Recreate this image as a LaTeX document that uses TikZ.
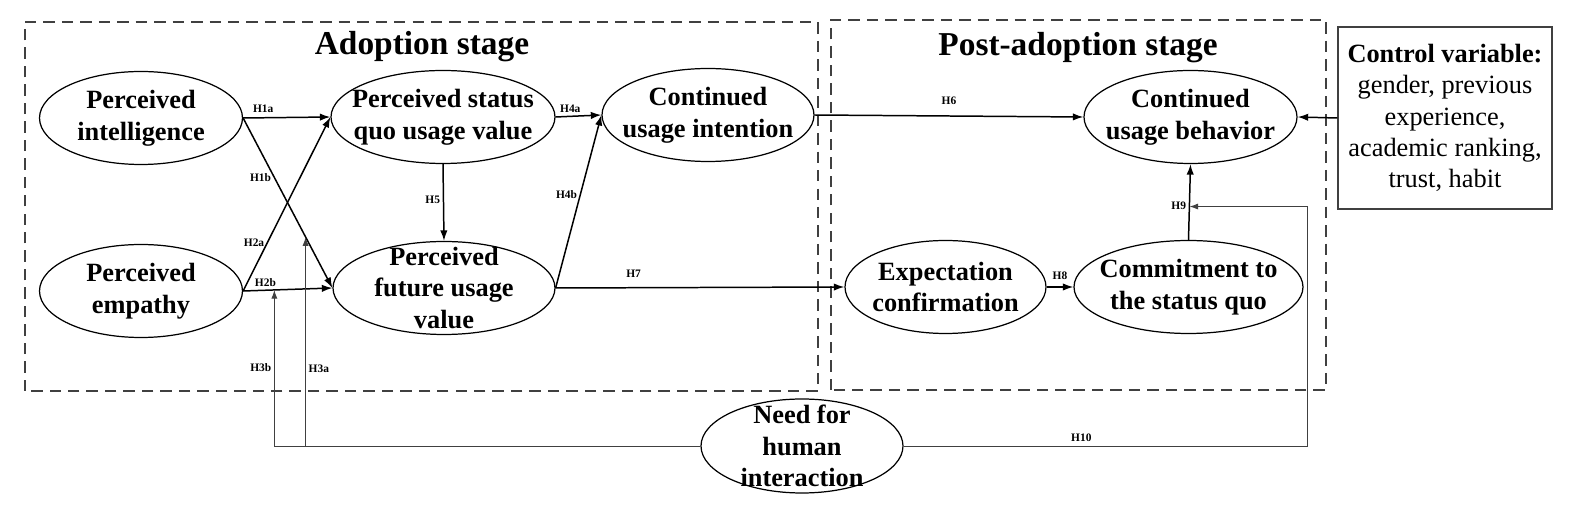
\documentclass[tikz,border=0pt]{standalone}
\usepackage{fontspec}
\setmainfont{Liberation Serif}
\usetikzlibrary{shapes.geometric, arrows.meta, calc}
\tikzset{
  oval/.style={draw, ellipse, line width=0.7pt, minimum height=1.86cm, inner sep=0pt},
  ovaltext/.style={align=center, inner sep=0pt, font=\fontsize{15}{18}\selectfont\bfseries},
  stagebox/.style={draw=black!75, line width=1.1pt, dash pattern=on 6.5pt off 4pt},
  stagetitle/.style={font=\fontsize{19}{22}\selectfont\bfseries},
  hyp/.style={font=\fontsize{6.5}{7}\selectfont\bfseries, inner sep=1.5pt},
  link/.style={-{Latex[length=6pt,width=4.2pt]}, line width=0.85pt},
  moder/.style={-{Latex[length=5pt,width=3.5pt]}, line width=0.55pt, draw=black!75},
}
\begin{document}
\begin{tikzpicture}
\useasboundingbox (0,0) rectangle (31.46,10.42);
\draw[stagebox] (0.50,2.60) rectangle (16.36,9.98);
\draw[stagebox] (16.62,2.62) rectangle (26.52,10.02);
\path (8.44,9.48) node[stagetitle] (adopt) {Adoption stage};
\path (21.56,9.46) node[stagetitle] (post) {Post-adoption stage};

\path (2.82,8.06) node[oval, minimum width=4.06cm] (intel) {};
\path (2.82,4.60) node[oval, minimum width=4.06cm] (empathy) {};
\path (8.86,8.08) node[oval, minimum width=4.48cm] (statusquo) {};
\path (8.88,4.66) node[oval, minimum width=4.44cm] (future) {};
\path (14.16,8.12) node[oval, minimum width=4.24cm] (intention) {};
\path (23.81,8.08) node[oval, minimum width=4.26cm] (behavior) {};
\path (18.91,4.68) node[oval, minimum width=4.02cm] (expect) {};
\path (23.77,4.68) node[oval, minimum width=4.58cm] (commit) {};
\path (16.04,1.50) node[oval, minimum width=4.04cm, minimum height=1.88cm] (need) {};
\node[ovaltext] (intel-t) at (intel) {Perceived\\intelligence};
\node[ovaltext] (empathy-t) at (empathy) {Perceived\\empathy};
\node[ovaltext] (statusquo-t) at (statusquo) {Perceived status\\quo usage value};
\node[ovaltext] (future-t) at (future) {Perceived\\future usage\\value};
\node[ovaltext] (intention-t) at (intention) {Continued\\usage intention};
\node[ovaltext] (behavior-t) at (behavior) {Continued\\usage behavior};
\node[ovaltext] (expect-t) at (expect) {Expectation\\confirmation};
\node[ovaltext] (commit-t) at (commit) {Commitment to\\the status quo};
\node[ovaltext] (need-t) at (need) {Need for\\human\\interaction};
\path (28.90,8.06) node[draw=black!75, line width=0.8pt, minimum width=4.28cm, minimum height=3.64cm,
  align=center, font=\fontsize{15}{17.8}\selectfont] (control)
  {\textbf{Control variable:}\\gender, previous\\experience,\\academic ranking,\\trust, habit};

\draw[link] (intel.east) -- node[hyp, pos=0.23, above=1pt] (lh1a) {H1a} (statusquo.west);
\draw[link] (intel.east) -- node[hyp, pos=0.35, left] (lh1b) {H1b} (future.west);
\draw[link] (empathy.east) -- node[hyp, pos=0.28, left] (lh2a) {H2a} (statusquo.west);
\draw[link] (empathy.east) -- node[hyp, pos=0.25, above] (lh2b) {H2b} (future.west);
\draw[link] (statusquo.east) -- node[hyp, pos=0.32, above] (lh4a) {H4a} (intention.west);
\draw[link] (future.east) -- node[hyp, pos=0.54, left] (lh4b) {H4b} (intention.west);
\draw[link] (statusquo.south) -- node[hyp, pos=0.47, left] (lh5) {H5} (future.north);
\draw[link] (intention.east) -- node[hyp, above=4.5pt] (lh6) {H6} (behavior.west);
\draw[link] (future.east) -- node[hyp, pos=0.27, above=4pt] (lh7) {H7} (expect.west);
\draw[link] (expect.east) -- node[hyp, above=2pt] (lh8) {H8} (commit.west);
\draw[link] (commit.north) -- node[hyp, pos=0.45, left] (lh9) {H9} (behavior.south);
\draw[link] (control.west) -- (behavior.east);

\coordinate (h3a) at ($(intel.east)!0.7!(future.west)$);
\coordinate (h3b) at ($(empathy.east)!0.35!(future.west)$);
\coordinate (h9) at ($(commit.north)!0.44!(behavior.south)$);
\coordinate (h10turn) at ([xshift=0.08cm]commit.east);
\draw[moder] (need.west) -| node[hyp, pos=0.75, left] (lh3b) {H3b} (h3b);
\draw[moder] (need.west -| h3a) -- node[hyp, pos=0.37, right] (lh3a) {H3a} (h3a);
\draw[moder] (need.east) -| node[hyp, pos=0.22, above=0.5pt] (lh10) {H10} (h10turn) |- (h9);
\end{tikzpicture}
\end{document}
